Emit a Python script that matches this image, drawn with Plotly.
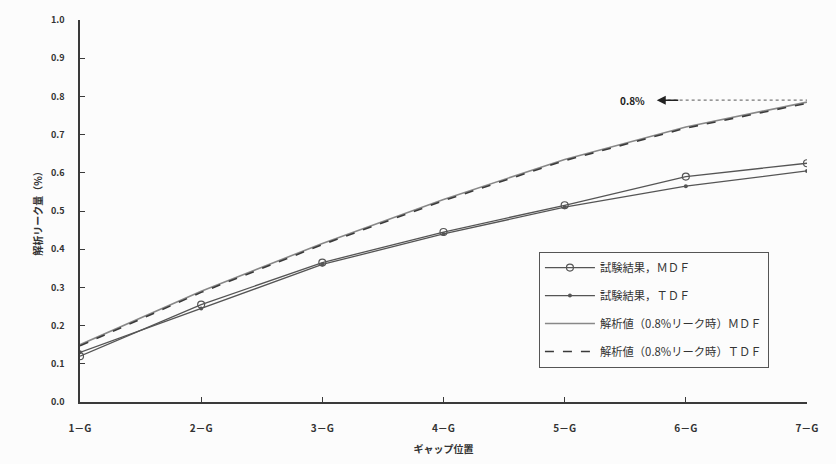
import plotly.graph_objects as go

categories = ["1－G", "2－G", "3－G", "4－G", "5－G", "6－G", "7－G"]
test_mdf = [0.12, 0.255, 0.365, 0.445, 0.515, 0.59, 0.625]
test_tdf = [0.13, 0.245, 0.36, 0.44, 0.51, 0.565, 0.605]
anal_mdf = [0.15, 0.29, 0.415, 0.53, 0.635, 0.72, 0.785]
anal_tdf = [0.147, 0.287, 0.412, 0.527, 0.632, 0.717, 0.782]
y_ticks = [0.0, 0.1, 0.2, 0.3, 0.4, 0.5, 0.6, 0.7, 0.8, 0.9, 1.0]
names = ["試験結果，ＭＤＦ", "試験結果，ＴＤＦ", "解析値（0.8%リーク時）ＭＤＦ", "解析値（0.8%リーク時）ＴＤＦ"]
leak_label = "0.8%"
leak_level = 0.79

xs = list(range(len(categories)))
LC = "#3a3a3a"
FONT = "Noto Sans CJK JP"

fig = go.Figure()
fig.add_trace(go.Scatter(x=xs, y=test_mdf, name=names[0], mode="lines+markers", legendgroup="a",
                         line=dict(color="#555", width=1.3),
                         marker=dict(symbol="circle-open", size=7, color="#555", line=dict(width=1.2))))
fig.add_trace(go.Scatter(x=xs, y=test_tdf, name=names[1], mode="lines+markers", legendgroup="b",
                         line=dict(color="#555", width=1.3),
                         marker=dict(symbol="circle", size=4, color="#555")))
fig.add_trace(go.Scatter(x=xs, y=anal_mdf, name=names[2], mode="lines", legendgroup="c",
                         line=dict(color="#888", width=1.6)))
fig.add_trace(go.Scatter(x=xs, y=anal_tdf, name=names[3], mode="lines", legendgroup="d",
                         line=dict(color=LC, width=1.6, dash="dash")))

# dotted leader line and arrow for 0.8%
fig.add_shape(type="line", xref="x", yref="y", x0=4.85, x1=6, y0=leak_level, y1=leak_level,
              line=dict(color="#777", width=1.2, dash="dot"))
fig.add_annotation(x=4.76, y=leak_level, ax=4.95, ay=leak_level, axref="x", ayref="y",
                   xref="x", yref="y", text="", showarrow=True, arrowhead=2, arrowsize=1.2,
                   arrowwidth=1.5, arrowcolor="#222")
fig.add_annotation(x=4.68, y=leak_level, xref="x", yref="y", text=leak_label, showarrow=False,
                   xanchor="right", font=dict(size=10, color="#222", family=FONT, weight="bold"))

fig.update_layout(
    width=836, height=464,
    margin=dict(l=80, r=29, t=20, b=62),
    paper_bgcolor="#fcfcfc", plot_bgcolor="#fcfcfc",
    font=dict(family=FONT, color="#333", size=10),
    showlegend=True,
    legend=dict(x=0.631, y=0.393, xanchor="left", yanchor="top",
                bordercolor="#555", borderwidth=1.2, bgcolor="#fcfcfc",
                font=dict(size=11.3, color="#333", family=FONT),
                tracegroupgap=9, itemwidth=50),
)
fig.update_xaxes(range=[0, 6], tickmode="array", tickvals=xs, ticktext=categories,
                 showgrid=False, zeroline=False, showline=True, linecolor=LC, linewidth=1.5,
                 ticks="inside", ticklen=5, tickcolor=LC, automargin=False,
                 tickfont=dict(size=10, weight="bold"), ticklabelstandoff=16,
                 title=dict(text="ギャップ位置", font=dict(size=10, weight="bold"), standoff=12))
fig.update_yaxes(range=[0, 1.0], tickmode="array", tickvals=y_ticks,
                 ticktext=[f"{v:.1f}" for v in y_ticks],
                 showgrid=False, zeroline=False, showline=True, linecolor=LC, linewidth=1.5,
                 ticks="inside", ticklen=5, tickcolor=LC, automargin=False,
                 tickfont=dict(size=9, weight="bold"), ticklabelstandoff=12,
                 title=dict(text="解析リーク量（%）", font=dict(size=10, weight="bold"), standoff=6))

fig.write_html("out.html", config={"displayModeBar": False},
               post_script="document.body.style.margin='0';document.body.style.background='#fcfcfc';")
